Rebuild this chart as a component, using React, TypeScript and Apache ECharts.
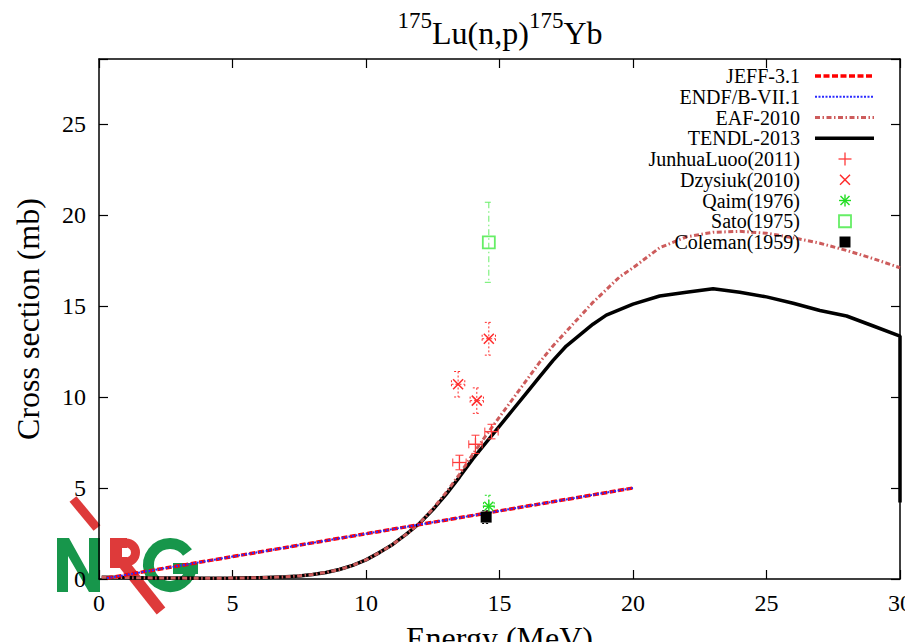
import { useEffect, useRef } from 'react';
import * as echarts from 'echarts';

const SERIF = '"Liberation Serif", "Times New Roman", serif';

// Evaluated cross-section curves: [energy (MeV), cross section (mb)]
const jeffCurve = [[0.3, 0.05], [20, 5.0]];
const endfCurve = [[0.3, 0.05], [20, 5.0]];
const eafCurve = [
  [0.1, 0.1], [1, 0.08], [2, 0.06], [3, 0.05], [4, 0.04], [5, 0.05], [6, 0.07], [7, 0.12],
  [7.5, 0.17], [8, 0.25], [8.5, 0.36], [9, 0.52], [9.5, 0.75], [10, 1.05], [10.5, 1.45],
  [11, 1.9], [11.5, 2.45], [12, 3.05], [12.5, 3.85], [13, 4.75], [13.5, 5.75], [14, 6.85],
  [14.5, 7.9], [15, 8.9], [15.5, 9.9], [16, 10.9], [16.5, 11.9], [17, 12.8], [17.5, 13.6],
  [18, 14.4], [18.5, 15.2], [19, 15.9], [19.5, 16.6], [20, 17.1], [21, 18.2], [22, 18.8],
  [23, 19.05], [24, 19.1], [25, 19.0], [26, 18.75], [27, 18.45], [28, 18.05], [29, 17.6], [30, 17.1],
];
const tendlCurve = [
  [0.1, 0.1], [1, 0.08], [2, 0.06], [3, 0.05], [4, 0.04], [5, 0.05], [6, 0.07], [7, 0.12],
  [7.5, 0.17], [8, 0.25], [8.5, 0.36], [9, 0.52], [9.5, 0.75], [10, 1.05], [10.5, 1.45],
  [11, 1.9], [11.5, 2.45], [12, 3.05], [12.5, 3.8], [13, 4.65], [13.5, 5.6], [14, 6.6],
  [14.5, 7.5], [15, 8.4], [15.5, 9.3], [16, 10.2], [16.5, 11.1], [17, 12.0], [17.5, 12.8],
  [18, 13.4], [18.5, 14.0], [19, 14.5], [19.5, 14.8], [20, 15.1], [21, 15.55], [22, 15.75],
  [23, 15.95], [24, 15.75], [25, 15.5], [26, 15.15], [27, 14.75], [28, 14.45], [29, 13.9],
  [30, 13.35], [30, 4.2],
];

// Measurements: [energy, cross section, cross-section error, energy error]
const luoData = [[13.5, 6.4, 0.4, 0.25], [14.1, 7.4, 0.5, 0.25], [14.7, 8.1, 0.4, 0.25]];
const dzysiukData = [[13.45, 10.7, 0.7, 0.25], [14.15, 9.8, 0.7, 0.25], [14.6, 13.2, 0.9, 0.25]];
const qaimData = [[14.6, 4.0, 0.6, 0.2]];
const satoData = [[14.6, 18.5, 2.2, 0]];
const colemanData = [[14.5, 3.4, 0.35, 0]];

const legendLabels = [
  'JEFF-3.1', 'ENDF/B-VII.1', 'EAF-2010', 'TENDL-2013',
  'JunhuaLuoo(2011)', 'Dzysiuk(2010)', 'Qaim(1976)', 'Sato(1975)', 'Coleman(1959)',
];

const Y_MAX = 28.57;

const lineStyles = [
  { color: '#ff0000', width: 3.5, dash: [6, 2.5] },
  { color: '#2a2aff', width: 2, dash: [2, 1.5] },
  { color: '#cd5c5c', width: 3, dash: [5, 2.5, 1.5, 2.5] },
  { color: '#000000', width: 3.5, dash: null as number[] | null },
];

type MarkerKind = 'plus' | 'cross' | 'star' | 'openSquare' | 'filledSquare';

const pointStyles: { kind: MarkerKind; color: string; barDash: number[] | null }[] = [
  { kind: 'plus', color: '#ff3a3a', barDash: null },
  { kind: 'cross', color: '#ff2a2a', barDash: [2, 2] },
  { kind: 'star', color: '#22dd22', barDash: [2, 2] },
  { kind: 'openSquare', color: '#66ee66', barDash: [6, 3, 1.5, 3] },
  { kind: 'filledSquare', color: '#000000', barDash: [2, 2] },
];

function seg(x1: number, y1: number, x2: number, y2: number, stroke: string, lineWidth: number, lineDash?: number[] | null) {
  const style: any = { stroke, lineWidth };
  if (lineDash) style.lineDash = lineDash;
  return { type: 'line', shape: { x1, y1, x2, y2 }, style };
}

function markerShapes(kind: MarkerKind, cx: number, cy: number, color: string): any[] {
  switch (kind) {
    case 'plus':
      return [seg(cx - 6.5, cy, cx + 6.5, cy, color, 1.3), seg(cx, cy - 6.5, cx, cy + 6.5, color, 1.3)];
    case 'cross':
      return [seg(cx - 5, cy - 5, cx + 5, cy + 5, color, 1.5), seg(cx - 5, cy + 5, cx + 5, cy - 5, color, 1.5)];
    case 'star':
      return [
        seg(cx - 6, cy, cx + 6, cy, color, 1.4), seg(cx, cy - 6, cx, cy + 6, color, 1.4),
        seg(cx - 4.5, cy - 4.5, cx + 4.5, cy + 4.5, color, 1.4), seg(cx - 4.5, cy + 4.5, cx + 4.5, cy - 4.5, color, 1.4),
      ];
    case 'openSquare':
      return [{ type: 'rect', shape: { x: cx - 6, y: cy - 6, width: 12, height: 12 }, style: { fill: 'none', stroke: color, lineWidth: 1.8 } }];
    case 'filledSquare':
    default:
      return [{ type: 'rect', shape: { x: cx - 5.5, y: cy - 5.5, width: 11, height: 11 }, style: { fill: color } }];
  }
}

function measurementSeries(name: string, data: number[][], idx: number) {
  const ps = pointStyles[idx];
  return {
    type: 'custom',
    name,
    data,
    z: 6,
    encode: { x: 0, y: 1 },
    renderItem: (_params: any, api: any) => {
      const x = api.value(0);
      const y = api.value(1);
      const dy = api.value(2);
      const dx = api.value(3);
      const c = api.coord([x, y]);
      const top = api.coord([x, y + dy]);
      const bot = api.coord([x, y - dy]);
      const cap = 4;
      const children: any[] = [
        seg(c[0], top[1], c[0], bot[1], ps.color, 1, ps.barDash),
        seg(c[0] - cap, top[1], c[0] + cap, top[1], ps.color, 1, ps.barDash),
        seg(c[0] - cap, bot[1], c[0] + cap, bot[1], ps.color, 1, ps.barDash),
      ];
      if (dx > 0) {
        const l = api.coord([x - dx, y]);
        const r = api.coord([x + dx, y]);
        children.push(
          seg(l[0], c[1], r[0], c[1], ps.color, 1, ps.barDash),
          seg(l[0], c[1] - cap, l[0], c[1] + cap, ps.color, 1, ps.barDash),
          seg(r[0], c[1] - cap, r[0], c[1] + cap, ps.color, 1, ps.barDash),
        );
      }
      children.push(...markerShapes(ps.kind, c[0], c[1], ps.color));
      return { type: 'group', children };
    },
  };
}

function curveSeries(name: string, data: number[][], idx: number, z: number) {
  const ls = lineStyles[idx];
  return {
    type: 'line',
    name,
    data,
    z,
    symbol: 'none',
    smooth: false,
    lineStyle: { color: ls.color, width: ls.width, type: ls.dash ?? 'solid', cap: 'butt' },
  };
}

function legendGraphics(): any[] {
  const els: any[] = [];
  const textRight = 800;
  const x0 = 815;
  const x1 = 874;
  const xm = 845;
  legendLabels.forEach((label, i) => {
    const y = 76 + i * 20.75;
    els.push({
      type: 'text',
      x: textRight,
      y,
      z: 20,
      style: {
        text: label,
        font: `20px ${SERIF}`,
        fill: '#000',
        align: 'right',
        verticalAlign: 'middle',
        textAlign: 'right',
        textVerticalAlign: 'middle',
      },
    });
    if (i < lineStyles.length) {
      const ls = lineStyles[i];
      els.push({ ...seg(x0, y, x1, y, ls.color, ls.width, ls.dash), z: 20 });
    } else {
      const ps = pointStyles[i - lineStyles.length];
      markerShapes(ps.kind, xm, y, ps.color).forEach((m) => els.push({ ...m, z: 20 }));
    }
  });
  return els;
}

function logoGraphics(): any[] {
  const green = '#17964b';
  const red = '#de3a3a';
  const z = -5;
  return [
    // N
    { type: 'polygon', z, silent: true, shape: { points: [[57, 538], [69, 538], [89, 574], [89, 538], [100, 538], [100, 592], [89, 592], [68, 556], [68, 592], [57, 592]] }, style: { fill: green } },
    // red stroke above the N
    { type: 'line', z, silent: true, shape: { x1: 73, y1: 499, x2: 97, y2: 528 }, style: { stroke: red, lineWidth: 9 } },
    // R
    { type: 'rect', z, silent: true, shape: { x: 110, y: 538, width: 12, height: 30 }, style: { fill: red } },
    { type: 'rect', z, silent: true, shape: { x: 121, y: 538, width: 6, height: 10 }, style: { fill: red } },
    { type: 'rect', z, silent: true, shape: { x: 121, y: 557, width: 6, height: 10 }, style: { fill: red } },
    { type: 'arc', z, silent: true, shape: { cx: 126, cy: 552.5, r: 9.5, startAngle: -Math.PI / 2, endAngle: Math.PI / 2, clockwise: true }, style: { stroke: red, lineWidth: 9, fill: 'none' } },
    { type: 'line', z, silent: true, shape: { x1: 123, y1: 563, x2: 161, y2: 611 }, style: { stroke: red, lineWidth: 11 } },
    // G
    { type: 'arc', z, silent: true, shape: { cx: 170, cy: 565, r: 21.5, startAngle: 0.05, endAngle: 2 * Math.PI - 0.62, clockwise: true }, style: { stroke: green, lineWidth: 11, fill: 'none' } },
    { type: 'rect', z, silent: true, shape: { x: 173, y: 563, width: 25, height: 11 }, style: { fill: green } },
  ];
}

function titleGraphic() {
  return {
    type: 'text',
    x: 500,
    y: 9,
    z: 20,
    style: {
      text: '{s|175}{b|Lu(n,p)}{s|175}{b|Yb}',
      align: 'center',
      verticalAlign: 'top',
      textAlign: 'center',
      textVerticalAlign: 'top',
      rich: {
        s: { fontFamily: SERIF, fontSize: 23, lineHeight: 24, verticalAlign: 'top', fill: '#000' },
        b: { fontFamily: SERIF, fontSize: 32, lineHeight: 40, verticalAlign: 'bottom', fill: '#000' },
      },
    },
  };
}

const axisLine = { show: true, onZero: false, lineStyle: { color: '#000', width: 1.5 } };
const axisTick = { show: true, inside: true, length: 9, lineStyle: { color: '#000', width: 1.2 } };
const fmt = (v: number) => (Math.abs(v % 5) < 1e-9 ? String(v) : '');

export default function App() {
  const ref = useRef<HTMLDivElement>(null);

  useEffect(() => {
    document.body.style.margin = '0';
    if (!ref.current) return;
    const chart = echarts.init(ref.current, undefined, { renderer: 'svg' });
    chart.setOption({
      animation: false,
      backgroundColor: '#ffffff',
      grid: { left: 99, right: 5, top: 59, bottom: 63, containLabel: false, outerBoundsMode: 'none' },
      xAxis: [
        {
          type: 'value', position: 'bottom', min: 0, max: 30, interval: 5,
          axisLine, axisTick, splitLine: { show: false },
          axisLabel: { fontFamily: SERIF, fontSize: 24, color: '#000', margin: 12, formatter: fmt },
          name: 'Energy (MeV)', nameLocation: 'middle', nameGap: 43,
          nameTextStyle: { fontFamily: SERIF, fontSize: 32, color: '#000' },
        },
        {
          type: 'value', position: 'top', min: 0, max: 30, interval: 5,
          axisLine, axisTick, splitLine: { show: false }, axisLabel: { show: false },
        },
      ],
      yAxis: [
        {
          type: 'value', position: 'left', min: 0, max: Y_MAX, interval: 5,
          axisLine, axisTick, splitLine: { show: false },
          axisLabel: { fontFamily: SERIF, fontSize: 24, color: '#000', margin: 13, formatter: fmt },
          name: 'Cross section (mb)', nameLocation: 'middle', nameGap: 55,
          nameTextStyle: { fontFamily: SERIF, fontSize: 32, color: '#000' },
        },
        {
          type: 'value', position: 'right', min: 0, max: Y_MAX, interval: 5,
          axisLine, axisTick, splitLine: { show: false }, axisLabel: { show: false },
        },
      ],
      series: [
        curveSeries('TENDL-2013', tendlCurve, 3, 2),
        curveSeries('EAF-2010', eafCurve, 2, 3),
        curveSeries('JEFF-3.1', jeffCurve, 0, 4),
        curveSeries('ENDF/B-VII.1', endfCurve, 1, 5),
        measurementSeries('JunhuaLuoo(2011)', luoData, 0),
        measurementSeries('Dzysiuk(2010)', dzysiukData, 1),
        measurementSeries('Qaim(1976)', qaimData, 2),
        measurementSeries('Sato(1975)', satoData, 3),
        measurementSeries('Coleman(1959)', colemanData, 4),
      ],
      graphic: { elements: [...logoGraphics(), titleGraphic(), ...legendGraphics()] },
    });
    return () => chart.dispose();
  }, []);

  return <div ref={ref} style={{ width: 905, height: 642 }} />;
}
